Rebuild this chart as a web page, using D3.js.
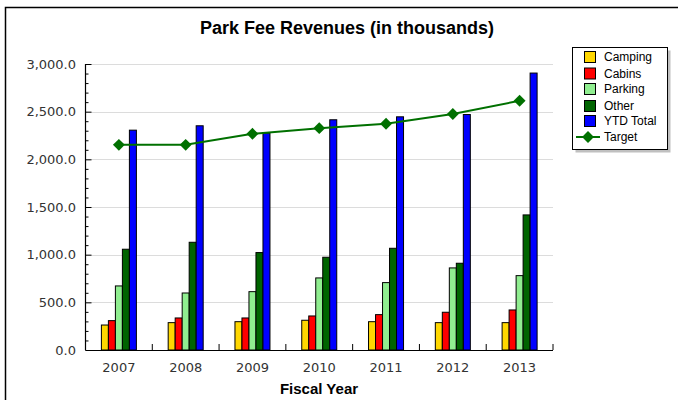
<!DOCTYPE html>
<html><head><meta charset="utf-8">
<script src="https://cdn.jsdelivr.net/npm/d3@7"></script>
<style>body{margin:0;background:#fff}svg{display:block}</style>
</head><body>
<svg id="c" width="678" height="400"></svg>
<script>
const years = ["2007","2008","2009","2010","2011","2012","2013"];
const seriesNames = ["Camping","Cabins","Parking","Other","YTD Total"];
const camping = [262, 287, 297, 312, 297, 287, 287];
const cabins = [308, 336, 336, 357, 371, 396, 420];
const parking = [672, 598, 612, 756, 707, 861, 780];
const other = [1057, 1130, 1022, 973, 1067, 910, 1417];
const ytdTotal = [2306, 2352, 2275, 2415, 2446, 2470, 2905];
const target = [2152, 2152, 2268, 2327, 2373, 2475, 2614];
const yTicks = [0, 500, 1000, 1500, 2000, 2500, 3000];
const colors = ["#FFD700", "#FF0000", "#90EE90", "#006400", "#0000FF"];
const lineColor = "#007000";

const svg = d3.select("#c");
const L = 85.5, R = 553, T = 64, B = 350;
const font = "'DejaVu Sans', Verdana, sans-serif";

// outer border
svg.append("rect").attr("x", 5.5).attr("y", 7.5).attr("width", 700).attr("height", 420)
  .attr("fill", "none").attr("stroke", "#000").attr("stroke-width", 1.5);

const x = d3.scaleBand().domain(years).range([L, R]).padding(0);
const y = d3.scaleLinear().domain([0, 3000]).range([B, T]);
const xs = d3.scaleBand().domain(seriesNames).range([0, x.bandwidth()]).paddingInner(0).paddingOuter(2.27);

// grid
svg.append("g").selectAll("line").data(yTicks.filter(d => d > 0)).join("line")
  .attr("x1", L).attr("x2", R).attr("y1", d => Math.round(y(d)) + 0.5).attr("y2", d => Math.round(y(d)) + 0.5)
  .attr("stroke", "#dcdcdc").attr("stroke-width", 1);

// bars
const seriesData = [camping, cabins, parking, other, ytdTotal];
const g = svg.append("g");
seriesNames.forEach((s, si) => {
  g.append("g").selectAll("rect").data(years).join("rect")
    .attr("x", d => x(d) + xs(s))
    .attr("y", (d, i) => y(seriesData[si][i]))
    .attr("width", xs.bandwidth())
    .attr("height", (d, i) => B - y(seriesData[si][i]))
    .attr("fill", colors[si]).attr("stroke", "#000").attr("stroke-width", 1);
});

// y axis (ticks inside)
const yAxis = svg.append("g").attr("transform", `translate(${L},0)`)
  .call(d3.axisRight(y).tickValues(yTicks).tickSize(6).tickFormat(""));
const yMinor = svg.append("g").attr("transform", `translate(${L},0)`)
  .call(d3.axisRight(y).tickValues(d3.range(0, 3001, 100).filter(v => v % 500)).tickSize(3).tickFormat(""));
[yAxis, yMinor].forEach(a => { a.selectAll("line").attr("stroke", "#000"); a.select(".domain").remove(); });
svg.append("line").attr("x1", L).attr("x2", L).attr("y1", T).attr("y2", B).attr("stroke", "#000").attr("stroke-width", 1.2);

svg.append("g").selectAll("text").data(yTicks).join("text")
  .attr("x", 76).attr("y", d => y(d)).attr("dy", "0.35em")
  .attr("text-anchor", "end").attr("font-family", font).attr("font-size", 13).attr("fill", "#333")
  .text(d => d3.format(",.1f")(d));

// x axis
svg.append("line").attr("x1", L).attr("x2", R).attr("y1", B + 0.5).attr("y2", B + 0.5).attr("stroke", "#000").attr("stroke-width", 1.2);
svg.append("g").selectAll("line").data(years.slice(1).concat(["end"])).join("line")
  .attr("x1", (d, i) => i < years.length - 1 ? x(d) : R)
  .attr("x2", (d, i) => i < years.length - 1 ? x(d) : R)
  .attr("y1", B).attr("y2", B - 6).attr("stroke", "#000");
svg.append("g").selectAll("text").data(years).join("text")
  .attr("x", d => x(d) + x.bandwidth() / 2).attr("y", 372)
  .attr("text-anchor", "middle").attr("font-family", font).attr("font-size", 13).attr("fill", "#333")
  .text(d => d);

// target line
const line = d3.line().x((d, i) => x(years[i]) + x.bandwidth() / 2).y(d => y(d));
svg.append("path").datum(target).attr("d", line).attr("fill", "none").attr("stroke", lineColor).attr("stroke-width", 2);
const diamond = d3.symbol().type(d3.symbolDiamond2).size(90);
svg.append("g").selectAll("path").data(target).join("path")
  .attr("transform", (d, i) => `translate(${x(years[i]) + x.bandwidth() / 2},${y(d)})`)
  .attr("d", diamond).attr("fill", lineColor);

// titles
svg.append("text").attr("x", 347).attr("y", 34).attr("text-anchor", "middle")
  .attr("font-family", "'Liberation Sans', Arial, sans-serif").attr("font-weight", "bold").attr("font-size", 18)
  .text("Park Fee Revenues (in thousands)");
svg.append("text").attr("x", 319).attr("y", 394).attr("text-anchor", "middle")
  .attr("font-family", "'Liberation Sans', Arial, sans-serif").attr("font-weight", "bold").attr("font-size", 15)
  .text("Fiscal Year");

// legend
const lg = svg.append("g");
lg.append("rect").attr("x", 575.5).attr("y", 50.5).attr("width", 95).attr("height", 102).attr("fill", "#c0c0c0");
lg.append("rect").attr("x", 572.5).attr("y", 47.5).attr("width", 95).attr("height", 102).attr("fill", "#fff").attr("stroke", "#000");
const legendNames = seriesNames.concat(["Target"]);
const ly = [57, 73.5, 89, 106, 121, 137];
legendNames.forEach((n, i) => {
  if (i < 5) {
    lg.append("rect").attr("x", 584.5).attr("y", ly[i] - 5.5).attr("width", 11).attr("height", 11)
      .attr("fill", colors[i]).attr("stroke", "#000");
  } else {
    lg.append("line").attr("x1", 576).attr("x2", 600).attr("y1", ly[i]).attr("y2", ly[i]).attr("stroke", lineColor).attr("stroke-width", 2);
    lg.append("path").attr("transform", `translate(588,${ly[i]})`).attr("d", diamond).attr("fill", lineColor);
  }
  lg.append("text").attr("x", 604).attr("y", ly[i]).attr("dy", "0.35em")
    .attr("font-family", "'Liberation Sans', Arial, sans-serif").attr("font-size", 12).attr("fill", "#000").text(n);
});
</script>
</body></html>
